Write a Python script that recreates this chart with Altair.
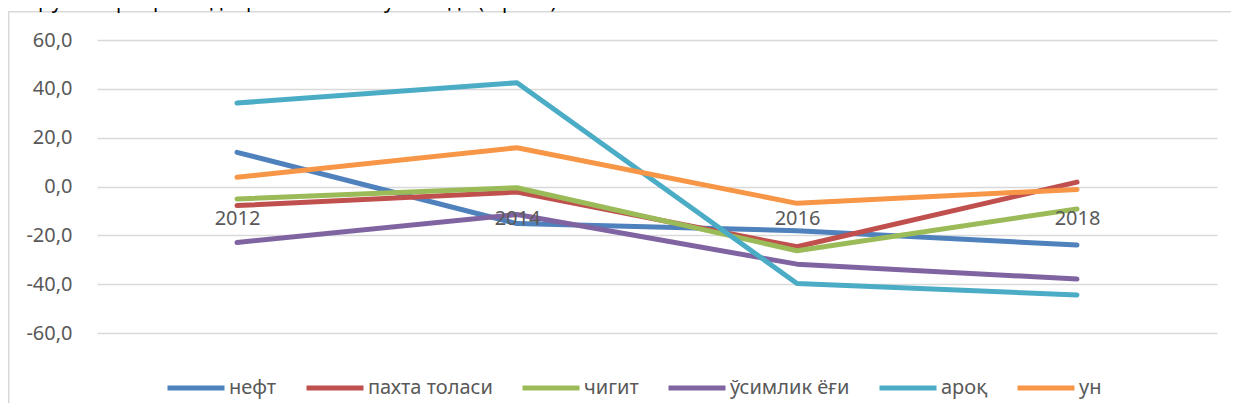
import altair as alt
import pandas as pd

# ---- data ----
years = ["2012", "2014", "2016", "2018"]
series_names = ["нефт", "пахта толаси", "чигит", "ўсимлик ёғи", "ароқ", "ун"]
neft = [14.0, -15.2, -18.1, -24.0]
pakhta = [-7.8, -2.3, -24.7, 1.8]
chigit = [-5.1, -0.5, -26.3, -9.2]
usimlik = [-22.9, -11.5, -31.8, -37.9]
arok = [34.2, 42.5, -39.7, -44.4]
un = [3.8, 15.9, -6.9, -1.2]
y_ticks = [-60, -40, -20, 0, 20, 40, 60]
caption = "Маҳсулотлари ҳажмида ҳам пасайиш кузатилди (1-расм)."

colors = ["#4F81BD", "#C0504D", "#9BBB59", "#8064A2", "#4BACC6", "#F79646"]

values = [neft, pakhta, chigit, usimlik, arok, un]
rows = []
for name, vals in zip(series_names, values):
    for yr, v in zip(years, vals):
        rows.append({"year": yr, "value": v, "series": name})
df = pd.DataFrame(rows)

FONT = "Noto Sans"
TXT = "#595959"
GRID = "#D9D9D9"

lines = alt.Chart(df).mark_line(
    strokeWidth=5, strokeCap="round", strokeJoin="round"
).encode(
    x=alt.X(
        "year:N",
        sort=years,
        scale=alt.Scale(type="point", padding=0.5),
        axis=alt.Axis(
            title=None, orient="bottom", offset=-146.5, domain=False,
            ticks=False, tickSize=0, labelPadding=22, labelAngle=0,
            labelFont=FONT, labelFontSize=20, labelColor=TXT, grid=False,
            zindex=1,
        ),
    ),
    y=alt.Y(
        "value:Q",
        scale=alt.Scale(domain=[-60, 60], nice=False, zero=False),
        axis=alt.Axis(
            title=None, values=y_ticks, format=".1f", domain=False,
            ticks=False, tickSize=0, labelPadding=25,
            labelFont=FONT, labelFontSize=20, labelColor=TXT,
            gridColor=GRID, gridWidth=1.3, zindex=0,
        ),
    ),
    color=alt.Color(
        "series:N",
        sort=series_names,
        scale=alt.Scale(domain=series_names, range=colors),
        legend=alt.Legend(
            title=None, orient="none", legendX=68, legendY=317,
            direction="horizontal", symbolType="stroke", symbolSize=3249,
            symbolStrokeWidth=5, labelFont=FONT, labelFontSize=20,
            labelColor=TXT, labelOffset=2, columnPadding=19, padding=0,
        ),
    ),
)

one = pd.DataFrame({"t": [caption]})
border_left = alt.Chart(one).mark_rule(color=GRID, strokeWidth=1.5).encode(
    x=alt.value(-88.25), y=alt.value(-28.3), y2=alt.value(400)
)
border_top = alt.Chart(one).mark_rule(color=GRID, strokeWidth=1.5).encode(
    x=alt.value(-89), x2=alt.value(1200), y=alt.value(-28.3)
)
cap = alt.Chart(one).mark_text(
    align="left", baseline="alphabetic", font=FONT, fontSize=20, color="#000000"
).encode(x=alt.value(-95), y=alt.value(-32.5), text="t:N")

chart = alt.layer(border_left, border_top, cap, lines).properties(
    width=1120,
    height=293,
    autosize=alt.AutoSizeParams(type="none"),
    padding={"left": 89, "top": 32, "right": 14, "bottom": 70},
    background="white",
).configure(
    locale={"number": {"decimal": ",", "thousands": " ", "grouping": [3],
                       "currency": ["", ""], "minus": "-"}}
).configure_view(strokeWidth=0)

chart.save("out.html", embed_options={"renderer": "svg", "actions": False})
